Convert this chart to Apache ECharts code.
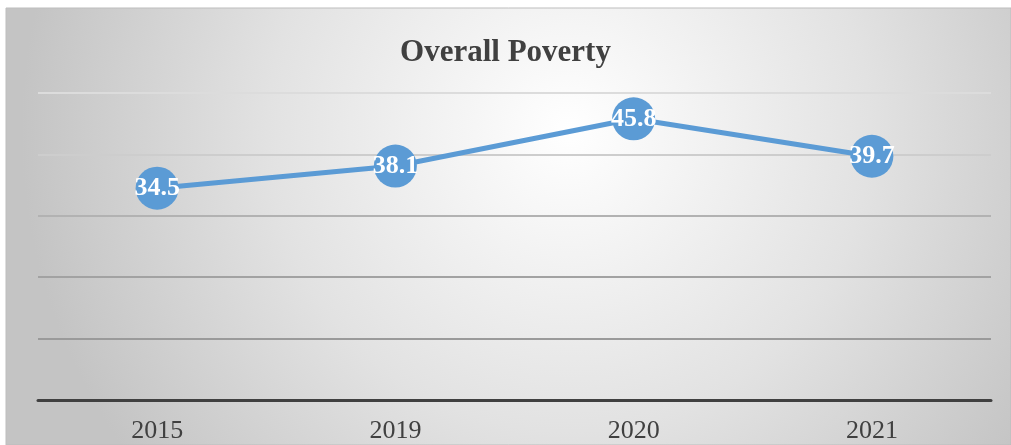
<!DOCTYPE html>
<html>
<head>
<meta charset="utf-8">
<script src="https://cdn.jsdelivr.net/npm/echarts@6/dist/echarts.min.js"></script>
<style>
  html, body { margin: 0; padding: 0; background: #fff; }
  #chart { width: 1011px; height: 445px; }
</style>
</head>
<body>
<div id="chart"></div>
<script>
var years = ['2015', '2019', '2020', '2021'];
var poverty = [34.5, 38.1, 45.8, 39.7];

var myChart = echarts.init(document.getElementById('chart'));

var option = {
  backgroundColor: '#ffffff',
  animation: false,
  graphic: [
    {
      type: 'rect',
      z: -10,
      shape: { x: 6, y: 8, width: 1005, height: 437 },
      style: {
        fill: {
          type: 'radial',
          x: 0.56, y: 0.28, r: 1.25,
          colorStops: [
            { offset: 0, color: '#ffffff' },
            { offset: 0.55, color: '#e2e2e2' },
            { offset: 1, color: '#c4c4c4' }
          ]
        },
        stroke: '#bdbdbd',
        lineWidth: 1
      }
    }
  ],
  title: {
    text: 'Overall Poverty',
    left: 'center',
    top: 32,
    textStyle: {
      fontFamily: 'Liberation Serif',
      fontWeight: 'bold',
      fontSize: 31,
      color: '#404040'
    }
  },
  grid: {
    left: 38,
    right: 20,
    top: 93,
    bottom: 45
  },
  xAxis: {
    type: 'category',
    data: years,
    boundaryGap: true,
    axisLine: { lineStyle: { color: '#404040', width: 3 } },
    axisTick: { show: false },
    axisLabel: {
      fontFamily: 'Liberation Serif',
      fontSize: 26,
      color: '#404040',
      margin: 18
    }
  },
  yAxis: {
    type: 'value',
    min: 0,
    max: 50,
    interval: 10,
    axisLine: { show: false },
    axisTick: { show: false },
    axisLabel: { show: false },
    splitLine: {
      lineStyle: {
        color: ['#404040', '#9a9a9a', '#a2a2a2', '#b2b2b2', '#cdcdcd', '#dcdcdc'],
        width: 2
      }
    }
  },
  series: [
    {
      type: 'line',
      data: poverty,
      symbol: 'circle',
      symbolSize: 43,
      itemStyle: { color: '#5b9bd5' },
      lineStyle: { color: '#5b9bd5', width: 5 },
      label: {
        show: true,
        position: 'inside',
        fontFamily: 'Liberation Serif',
        fontWeight: 'bold',
        fontSize: 26,
        color: '#ffffff'
      }
    }
  ]
};

myChart.setOption(option);
</script>
</body>
</html>
